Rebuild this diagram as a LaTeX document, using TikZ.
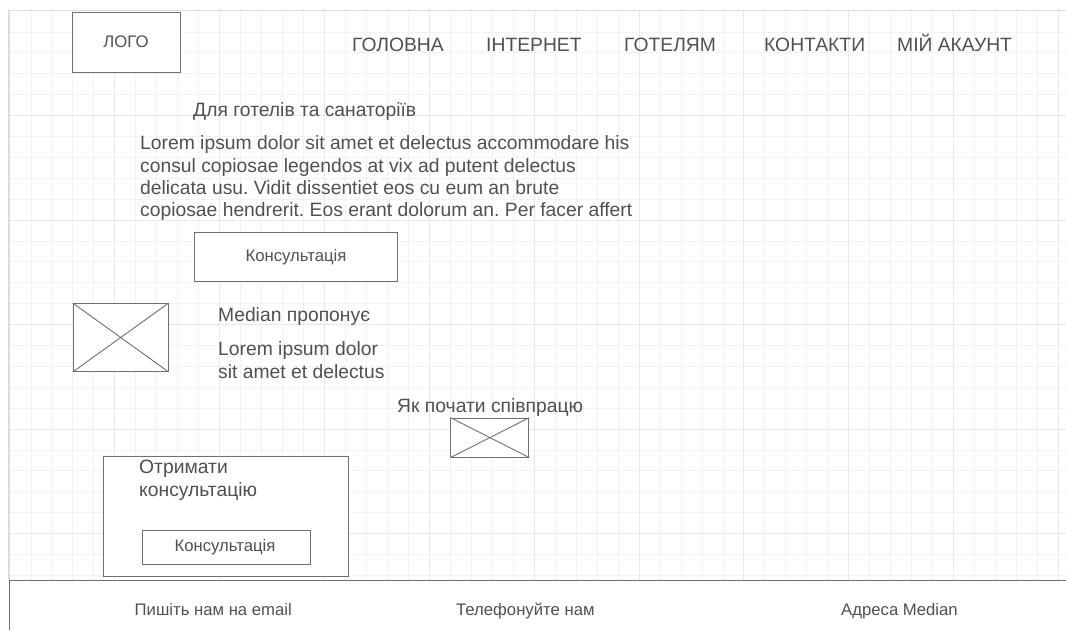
\documentclass[tikz,border=0pt]{standalone}
\usepackage{fontspec}
\setmainfont{Liberation Sans}
\frenchspacing
\definecolor{ink}{HTML}{505050}
\definecolor{edge}{HTML}{707070}
\definecolor{gridminor}{HTML}{F2F2F2}
\definecolor{gridmajor}{HTML}{E8E8E8}
\definecolor{frameline}{HTML}{DCDCDC}
\tikzset{
  box/.style={draw=edge,line width=1pt,fill=white,inner sep=0pt,anchor=north west},
  txt/.style={text=ink,inner sep=0pt,anchor=base west,font=\fontsize{19.3}{23}\selectfont},
  small/.style={text=ink,inner sep=0pt,anchor=base west,font=\fontsize{16.7}{20}\selectfont},
  label/.style={text=ink,inner sep=0pt,font=\fontsize{16.7}{20}\selectfont},
  cross/.style={draw=edge,line width=0.9pt},
}
\begin{document}
\begin{tikzpicture}[x=1pt,y=-1pt]
\useasboundingbox (0,0) rectangle (1066,630);
\fill[white] (0,0) rectangle (1066,630);
% grid
\foreach \i in {0,...,49}{
  \pgfmathsetmacro{\gx}{31+20.97*\i}
  \pgfmathtruncatemacro{\m}{mod(\i+1,5)==0?1:0}
  \ifnum\m=1 \draw[gridmajor,line width=1pt] (\gx,11)--(\gx,580);
  \else \draw[gridminor,line width=1pt] (\gx,11)--(\gx,580);\fi
}
\foreach \i in {0,...,26}{
  \pgfmathsetmacro{\gy}{32+20.9*\i}
  \pgfmathtruncatemacro{\m}{mod(\i+1,5)==0?1:0}
  \ifnum\m=1 \draw[gridmajor,line width=1pt] (9,\gy)--(1066,\gy);
  \else \draw[gridminor,line width=1pt] (9,\gy)--(1066,\gy);\fi
}
\draw[frameline,line width=1.8pt] (9,580)--(9,10.5)--(1066,10.5);
% logo
\node[box,minimum width=108pt,minimum height=60pt] (logo) at (71.7,11.7) {};
\node[label] (logot) at (126,41.5) {ЛОГО};
% menu
\node[txt] (m1) at (352,51.5) {ГОЛОВНА};
\node[txt] (m2) at (486,51.5) {ІНТЕРНЕТ};
\node[txt] (m3) at (624,51.5) {ГОТЕЛЯМ};
\node[txt] (m4) at (764,51.5) {КОНТАКТИ};
\node[txt] (m5) at (897,51.5) {МІЙ АКАУНТ};
% hero
\node[txt] (h1) at (193,116.5) {Для готелів та санаторіїв};
\node[txt] (l1) at (140,149.5) {Lorem ipsum dolor sit amet et delectus accommodare his};
\node[txt] (l2) at (140,172) {consul copiosae legendos at vix ad putent delectus};
\node[txt] (l3) at (140,194) {delicata usu. Vidit dissentiet eos cu eum an brute};
\node[txt] (l4) at (140,216.5) {copiosae hendrerit. Eos erant dolorum an. Per facer affert};
\node[box,minimum width=203pt,minimum height=49pt] (b1) at (193.7,231.7) {};
\node[label] (b1t) at (296,257) {Консультація};
% image 1
\node[box,minimum width=95pt,minimum height=68pt] (img1) at (72.7,303) {};
\draw[cross] (img1.north west)--(img1.south east);
\draw[cross] (img1.north east)--(img1.south west);
\node[txt] (o1) at (218,321.5) {Median пропонує};
\node[txt] (o2) at (218,355.5) {Lorem ipsum dolor};
\node[txt] (o3) at (218,378.5) {sit amet et delectus};
% start
\node[txt] (s1) at (397,412.5) {Як почати співпрацю};
\node[box,minimum width=78pt,minimum height=39pt] (img2) at (450.4,417.6) {};
\draw[cross] (img2.north west)--(img2.south east);
\draw[cross] (img2.north east)--(img2.south west);
% consult
\node[box,minimum width=245pt,minimum height=120.6pt] (card) at (102.5,455.7) {};
\node[txt] (c1) at (139,473) {Отримати};
\node[txt] (c2) at (139,496.5) {консультацію};
\node[box,minimum width=167.5pt,minimum height=34.5pt] (b2) at (142,529.5) {};
\node[label] (b2t) at (225,547) {Консультація};
% footer
\fill[white] (9,580.5) rectangle (1066,630);
\draw[edge,line width=1pt] (9.5,630)--(9.5,580.5)--(1066,580.5);
\node[small] (f1) at (134.5,615) {Пишіть нам на email};
\node[small] (f2) at (456,615) {Телефонуйте нам};
\node[small] (f3) at (841,615) {Адреса Median};
\end{tikzpicture}
\end{document}
